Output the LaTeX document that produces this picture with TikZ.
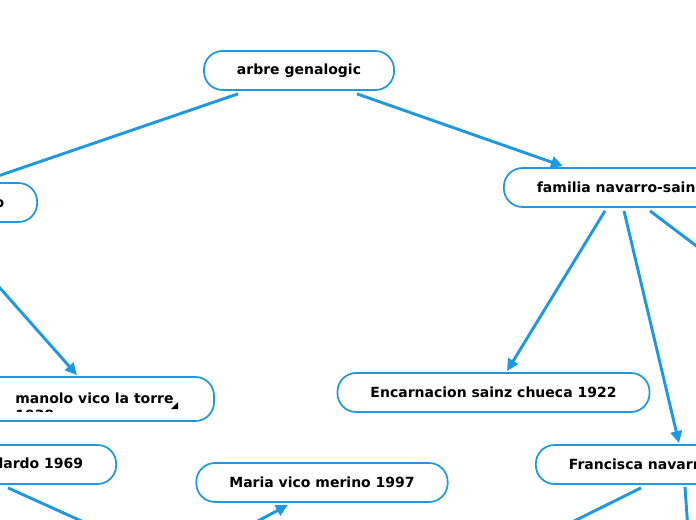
\documentclass[tikz,border=0pt]{standalone}
\usepackage{fontspec}
\setmainfont{DejaVu Sans}
\usepackage{xcolor}
\usetikzlibrary{arrows.meta,calc}

\definecolor{mapblue}{RGB}{30,152,224}
\tikzset{
  topic/.style={draw=mapblue, line width=1.3pt, rounded corners=14pt, fill=white,
    minimum height=29.25pt, inner xsep=24.75pt, inner ysep=0pt,
    font=\fontsize{10.5}{12.5}\selectfont\bfseries, text=black},
  link/.style={draw=mapblue, line width=2.2pt, -{Triangle[length=9pt,width=8.5pt]}},
  nodetext/.style={inner sep=0pt, font=\fontsize{10.5}{12.5}\selectfont\bfseries, text=black}
}

\begin{document}
\begin{tikzpicture}[x=0.75pt,y=0.75pt,yscale=-1,xscale=1]
\useasboundingbox (0,0) rectangle (696,520);
\clip (0,0) rectangle (696,520);

% Topics
\node[topic, minimum width=141pt] (arbre) at (299,70.5) {arbre genalogic};
\node[topic, anchor=east] (vico) at (38,202.5) {familia vico-merino};
\node[topic, anchor=west] (navarro) at (503,187.5) {familia navarro-sainz};
\node[topic, minimum width=233.25pt] (encarn) at (493.5,392.5) {Encarnacion sainz chueca 1922};
\node[topic, anchor=west] (francisca) at (535,464.5) {Francisca navarro};
\node[topic, minimum width=187.5pt] (maria) at (322,482.5) {Maria vico merino 1997};
\node[topic, anchor=east] (lardo) at (117,464.5) {merino gallardo 1969};
\node[topic, minimum width=174pt, minimum height=33pt] (manolo) at (98,399) {};

% Text Node (manolo, second line cut by the box)
\node[nodetext, anchor=base west] (manolotxt) at (15,403) {manolo vico la torre};
\begin{scope}
\clip (0,377) rectangle (214,411);
\node[nodetext, anchor=base west] (manoloyear) at (15,420) {1938};
\end{scope}
\fill[black] (171,409) -- (178,409) -- (178,402) -- cycle;

% Free ends outside the frame
\coordinate (offright) at (740,279);
\coordinate (offlardo) at (130,543);
\coordinate (offmaria) at (230,536);
\coordinate (offfrancL) at (540,538);
\coordinate (offfrancD) at (689,545);

% Connectors
\draw[link] ($(arbre.south)+(-61,3)$) -- ($(vico.north east)+(-52,-2)$);
\draw[link] ($(arbre.south)+(58,3)$) -- ($(navarro.north west)+(60,-1)$);
\draw[link] ($(vico.south east)+(-93,3)$) -- ($(manolo.north)+(-21,-1)$);
\draw[link] ($(navarro.south west)+(102,3)$) -- ($(encarn.north)+(13.5,-1)$);
\draw[link] ($(navarro.south west)+(121,3)$) -- ($(francisca.north west)+(144,-1)$);
\draw[link] ($(navarro.south west)+(147,3)$) -- (offright);
\draw[link] ($(lardo.south east)+(-109,3)$) -- (offlardo);
\draw[link] (offmaria) -- ($(maria.south)+(-34,2)$);
\draw[link] ($(francisca.south west)+(106,3)$) -- (offfrancL);
\draw[link] ($(francisca.south west)+(150,2)$) -- (offfrancD);
\end{tikzpicture}
\end{document}
